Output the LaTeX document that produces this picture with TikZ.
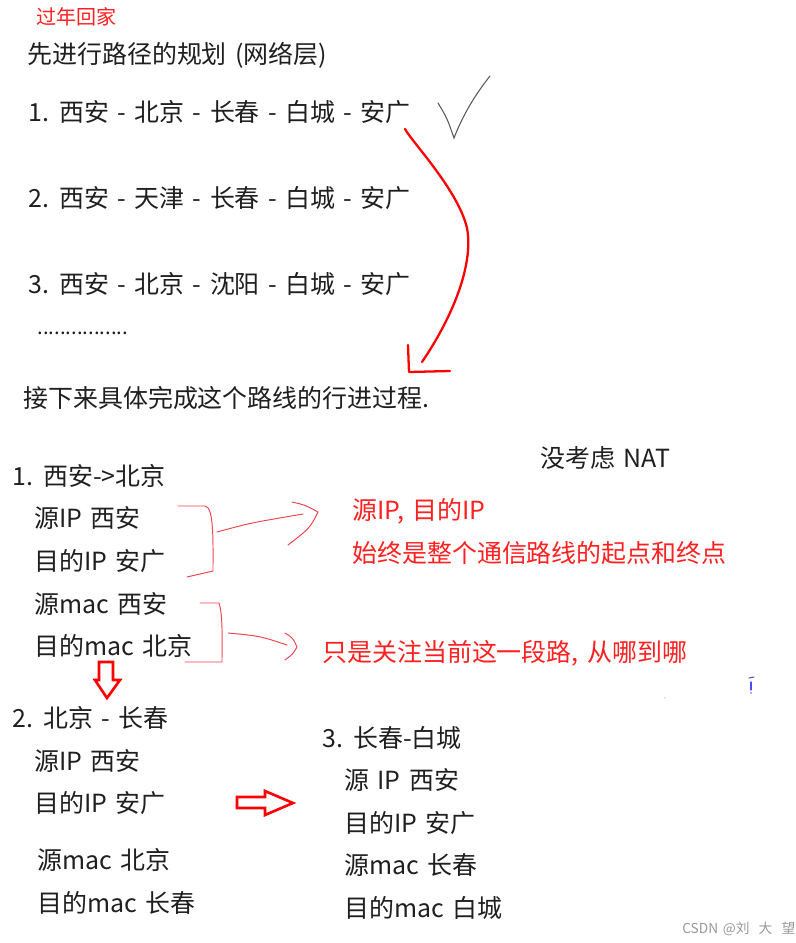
\documentclass[tikz,border=0pt]{standalone}
\usepackage{fontspec}
\setmainfont[WordSpace=1.5]{Noto Sans CJK SC}
\usepackage{xcolor}
\usetikzlibrary{positioning}
\definecolor{inkred}{RGB}{255,32,32}
\definecolor{penred}{RGB}{238,70,80}
\tikzset{
  txt/.style={anchor=west,inner sep=0pt,text=black!88,
    font=\fontsize{14.2pt}{16pt}\selectfont},
  note/.style={txt,text=inkred},
  pen/.style={penred,line width=0.55pt,line cap=round,line join=round},
  marker/.style={red,line width=1.3pt,line cap=round,line join=round},
  hollow/.style={red,line width=1.5pt,line join=miter}
}

\begin{document}
\begin{tikzpicture}[x=0.02cm,y=-0.02cm]
        \useasboundingbox[fill=white] (0,0) rectangle (795,943);
        % header and route planning
        \node[note,font=\fontsize{11.4pt}{13pt}\selectfont] (title) at (36,17) {过年回家};
        \node[txt] (plan) at (27,55) {先进行路径的规划 (网络层)};
        \node[txt] (route1) at (28,112) {1. 西安 - 北京 - 长春 - 白城 - 安广};
        \node[txt] (route2) at (28,198) {2. 西安 - 天津 - 长春 - 白城 - 安广};
        \node[txt] (route3) at (28,284) {3. 西安 - 北京 - 沈阳 - 白城 - 安广};
        \node[txt,anchor=base west,font=\fontsize{11.6pt}{13pt}\selectfont] (more) at (37,334) {................};
        \node[txt] (next) at (23,398) {接下来具体完成这个路线的行进过程.};
        % tick and hand drawn arrow
        \draw[black!65,line width=0.6pt,line cap=round] (438,103) .. controls (447,118) .. (454,138)
             .. controls (464,112) and (478,91) .. (490,76);
        \coordinate (curveTop) at (405,129);
        \coordinate (curveEnd) at (422,362);
        \draw[marker] (curveTop) .. controls (412,142) and (458,190) .. (467,228)
             .. controls (474,265) and (452,318) .. (curveEnd);
        \draw[marker] (408,345) -- (409,372) -- (450,371);
        % first leg
        \node[txt] (nat) at (540,458) {没考虑 NAT};
        \node[txt] (leg1) at (12,476) {1. 西安->北京};
        \node[txt] (leg1sip) at (34,518) {源IP 西安};
        \node[txt] (leg1dip) at (34,561) {目的IP 安广};
        \node[txt] (leg1smac) at (34,604) {源mac 西安};
        \node[txt] (leg1dmac) at (34,646) {目的mac 北京};
        \node[note] (ipnote) at (352,511) {源IP, 目的IP};
        \node[note] (ipnote2) at (352,553) {始终是整个通信路线的起点和终点};
        \node[note] (macnote) at (322,653) {只是关注当前这一段路, 从哪到哪};
        % brackets
        \draw[pen] (178,506) -- (205,506) .. controls (214,507) and (213,540) .. (213,571) -- (187,577);
        \draw[pen] (217,532) .. controls (250,523) .. (303,514);
        \draw[pen] (292,502) .. controls (305,505) .. (318,512) .. controls (310,528) .. (288,545);
        \draw[pen] (200,603) -- (219,603) .. controls (223,615) and (222,640) .. (222,662) -- (185,662);
        \draw[pen] (228,633) .. controls (260,636) .. (287,645);
        \draw[pen] (285,633) .. controls (293,638) .. (297,647) .. controls (293,654) .. (285,660);
        % hollow arrows
        \draw[hollow] (99,662) -- (113,662) -- (113,680) -- (120,680) -- (107,698)
             -- (95,680) -- (99,680) -- cycle;
        \draw[hollow] (237,797) -- (265,797) -- (265,791) -- (293,803) -- (265,815)
             -- (265,808) -- (237,808) -- cycle;
        % second leg
        \node[txt] (leg2) at (12,718) {2. 北京 - 长春};
        \node[txt] (leg2sip) at (34,761) {源IP 西安};
        \node[txt] (leg2dip) at (34,803) {目的IP 安广};
        \node[txt] (leg2smac) at (37,860) {源mac 北京};
        \node[txt] (leg2dmac) at (37,903) {目的mac 长春};
        % third leg
        \node[txt] (leg3) at (322,738) {3. 长春-白城};
        \node[txt] (leg3sip) at (344,780) {源 IP 西安};
        \node[txt] (leg3dip) at (344,823) {目的IP 安广};
        \node[txt] (leg3smac) at (344,865) {源mac 长春};
        \node[txt] (leg3dmac) at (344,908) {目的mac 白城};
        % stray pen marks
        \draw[blue!70,line width=0.6pt,line cap=round] (749,678) -- (754,677);
        \draw[blue!70,line width=0.7pt,line cap=round] (751,682) -- (751,690);
        \fill[blue!60] (751,693) circle (0.8);
        \fill[blue!40] (665,698) circle (0.7);
        % watermark
        \node[anchor=west,inner sep=0pt,text=black!40,font=\fontsize{7.8pt}{8pt}\selectfont]
             (mark) at (682,929) {CSDN @刘 \ 大 \ 望};
\end{tikzpicture}
\end{document}
